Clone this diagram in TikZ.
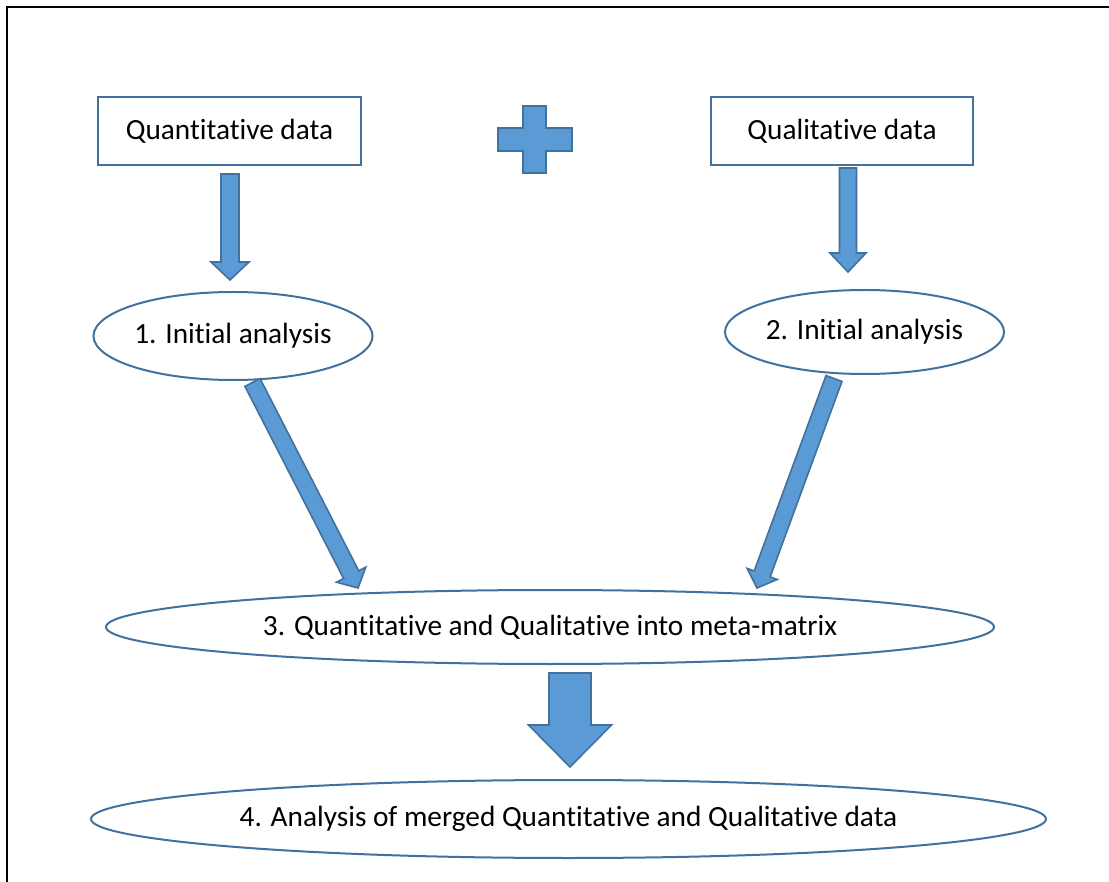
\documentclass[tikz,border=0pt]{standalone}
\usepackage{fontspec}
\setmainfont{Carlito}[Ligatures=NoCommon]
\usetikzlibrary{calc,shapes.geometric}
\definecolor{arrfill}{HTML}{5B9BD5}
\definecolor{arrline}{HTML}{41719C}
\definecolor{shapeline}{HTML}{41719C}
\tikzset{
  labeltext/.style={font=\fontsize{29.3}{34}\selectfont, text=black},
  databox/.style={draw=shapeline, line width=2pt, fill=white, inner sep=0pt, labeltext},
  stageellipse/.style={ellipse, draw=shapeline, line width=2pt, fill=white, inner sep=0pt, labeltext},
  blockarrow/.style={fill=arrfill, draw=arrline, line width=1.6pt, line join=miter},
  frameline/.style={draw=black, line width=2.6pt}
}
\newcommand\blockarr[5]{%
  \coordinate (bah) at ($(#2)!#5!(#1)$);
  \draw[blockarrow] ($(#1)!#3!90:(#2)$) -- ($(bah)!#3!90:(#2)$) -- ($(bah)!#4!90:(#2)$)
    -- (#2) -- ($(bah)!#4!-90:(#2)$) -- ($(bah)!#3!-90:(#2)$) -- ($(#1)!#3!-90:(#2)$) -- cycle;
}
\begin{document}
\begin{tikzpicture}[x=1pt,y=-1pt]
\clip (0,0) rectangle (1109,882);
\fill[white] (0,0) rectangle (1109,882);
\draw[frameline] (7,900) -- (7,7) -- (1130,7);

% boxes
\node[databox, minimum width=263pt, minimum height=68pt] (quant) at (229.5,131) {Quantitative data};
\node[databox, minimum width=262pt, minimum height=68pt] (qual) at (842,131) {Qualitative data};

% plus sign
\draw[blockarrow] (523,106) -- (546,106) -- (546,128) -- (572,128) -- (572,151) -- (546,151)
  -- (546,173) -- (523,173) -- (523,151) -- (498,151) -- (498,128) -- (523,128) -- cycle;

% ellipses
\node[stageellipse, minimum width=278pt, minimum height=88pt] (init1) at (233,336) {1. Initial analysis};
\node[stageellipse, minimum width=277pt, minimum height=84pt] (init2) at (864.5,332) {2. Initial analysis};
\node[stageellipse, minimum width=888pt, minimum height=74pt] (meta) at (550,627) {3. Quantitative and Qualitative into meta-matrix};
\node[stageellipse, minimum width=955pt, minimum height=78pt] (merged) at (568.5,819) {4. Analysis of merged Quantitative and Qualitative data};

% arrow end points
\coordinate (a1s) at (230,174);
\coordinate (a1e) at (230,280);
\coordinate (a2s) at (848,168);
\coordinate (a2e) at (848,272);
\coordinate (a3s) at (252.5,382.5);
\coordinate (a3e) at (358,588);
\coordinate (a4s) at (834,378.5);
\coordinate (a4e) at (757,588);
\coordinate (a5s) at (570,673);
\coordinate (a5e) at (570,767);

\blockarr{a1s}{a1e}{9pt}{19pt}{18pt}
\blockarr{a2s}{a2e}{8.5pt}{18pt}{19pt}
\blockarr{a3s}{a3e}{8.5pt}{16.5pt}{15pt}
\blockarr{a4s}{a4e}{8.5pt}{16pt}{15pt}
\blockarr{a5s}{a5e}{21pt}{41.5pt}{42pt}
\end{tikzpicture}
\end{document}
